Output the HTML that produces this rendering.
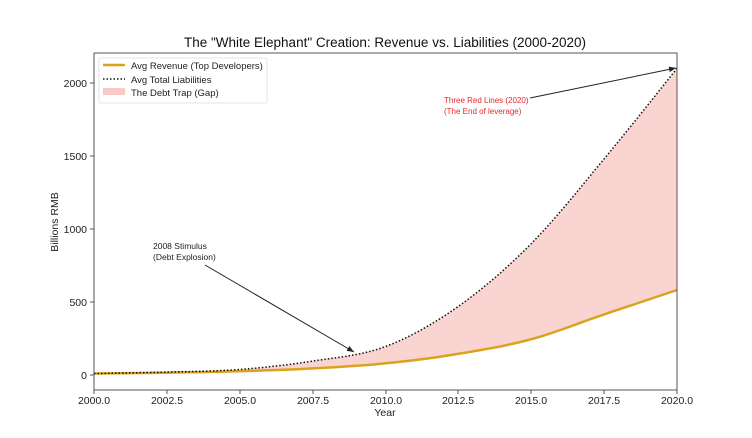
<!DOCTYPE html>
<html><head><meta charset="utf-8"><style>
body{margin:0;background:#fff;}
svg{display:block;font-family:"Liberation Sans",sans-serif;}
</style></head><body>
<svg id="s" width="752" height="438" viewBox="0 0 752 438">
<defs><marker id="ah" viewBox="0 0 10 10" refX="10" refY="5" markerWidth="7" markerHeight="7" orient="auto"><path d="M0,1 L10,5 L0,9 z" fill="#222"/></marker></defs>
<text x="385" y="47" font-size="13.5" text-anchor="middle" fill="#111">The "White Elephant" Creation: Revenue vs. Liabilities (2000-2020)</text>
<path id="fill" fill="#f9c9c6" fill-opacity="0.8"/>
<path id="rev" fill="none" stroke="#dba21b" stroke-width="2.5"/>
<path id="lia" fill="none" stroke="#111" stroke-width="1.5" stroke-dasharray="1.5,2"/>
<rect x="94" y="53" width="583" height="337" fill="none" stroke="#444" stroke-width="0.9"/>
<g font-size="10.5" fill="#222" text-anchor="middle">
<text x="94" y="404">2000.0</text><text x="167" y="404">2002.5</text><text x="240" y="404">2005.0</text><text x="313" y="404">2007.5</text><text x="386" y="404">2010.0</text><text x="458" y="404">2012.5</text><text x="531" y="404">2015.0</text><text x="604" y="404">2017.5</text><text x="677" y="404">2020.0</text>
<text x="385" y="416">Year</text>
</g>
<g stroke="#444" stroke-width="0.9">
<line x1="94" y1="390" x2="94" y2="394"/><line x1="167" y1="390" x2="167" y2="394"/><line x1="240" y1="390" x2="240" y2="394"/><line x1="313" y1="390" x2="313" y2="394"/><line x1="386" y1="390" x2="386" y2="394"/><line x1="458" y1="390" x2="458" y2="394"/><line x1="531" y1="390" x2="531" y2="394"/><line x1="604" y1="390" x2="604" y2="394"/><line x1="677" y1="390" x2="677" y2="394"/>
<line x1="90" y1="375" x2="94" y2="375"/><line x1="90" y1="302" x2="94" y2="302"/><line x1="90" y1="229" x2="94" y2="229"/><line x1="90" y1="156" x2="94" y2="156"/><line x1="90" y1="83" x2="94" y2="83"/>
</g>
<g font-size="10.5" fill="#222" text-anchor="end">
<text x="87" y="379">0</text><text x="87" y="306">500</text><text x="87" y="233">1000</text><text x="87" y="160">1500</text><text x="87" y="87">2000</text>
</g>
<text transform="translate(58,222) rotate(-90)" font-size="10.5" text-anchor="middle" fill="#222">Billions RMB</text>
<rect x="99" y="58" width="168" height="45" fill="#fff" stroke="#ddd" stroke-width="0.8" rx="2"/>
<line x1="103" y1="65" x2="125" y2="65" stroke="#dba21b" stroke-width="2.5"/>
<line x1="103" y1="79" x2="125" y2="79" stroke="#111" stroke-width="1.5" stroke-dasharray="1.5,2"/>
<rect x="103" y="88" width="22" height="7" fill="#f9c9c6"/>
<g font-size="9.5" fill="#222"><text x="131" y="69">Avg Revenue (Top Developers)</text><text x="131" y="83">Avg Total Liabilities</text><text x="131" y="96">The Debt Trap (Gap)</text></g>
<g font-size="8.5" fill="#222"><text x="153" y="249">2008 Stimulus</text><text x="153" y="260">(Debt Explosion)</text></g>
<line x1="205" y1="265" x2="354" y2="352" stroke="#222" stroke-width="1" marker-end="url(#ah)"/>
<g font-size="8" fill="#e8262a"><text x="444" y="103">Three Red Lines (2020)</text><text x="444" y="114">(The End of leverage)</text></g>
<line x1="530" y1="98" x2="676" y2="68" stroke="#222" stroke-width="1" marker-end="url(#ah)"/>
</svg>
<script>
var L=[[2000,10],[2002.5,20],[2005,38],[2007.5,95],[2010,195],[2012.5,470],[2015,900],[2017.5,1480],[2020,2100]];
var R=[[2000,10],[2002.5,16],[2005,26],[2007.5,45],[2010,80],[2012.5,145],[2015,245],[2017.5,415],[2020,582]];
function X(t){return 94+(t-2000)*29.15;}function Y(v){return 375-v*0.146;}
function interp(P){var o=[];for(var i=0;i<P.length-1;i++){var p0=P[Math.max(i-1,0)],p1=P[i],p2=P[i+1],p3=P[Math.min(i+2,P.length-1)];for(var k=0;k<10;k++){var t=k/10,t2=t*t,t3=t2*t;var f=function(a,b,c,d){return 0.5*(2*b+(-a+c)*t+(2*a-5*b+4*c-d)*t2+(-a+3*b-3*c+d)*t3);};o.push([f(p0[0],p1[0],p2[0],p3[0]),f(p0[1],p1[1],p2[1],p3[1])]);}}o.push(P[P.length-1]);return o;}
var l=interp(L),r=interp(R);
function d(a){return a.map(function(p,i){return (i?'L':'M')+X(p[0]).toFixed(1)+','+Y(p[1]).toFixed(1);}).join('');}
document.getElementById('lia').setAttribute('d',d(l));
document.getElementById('rev').setAttribute('d',d(r));
document.getElementById('fill').setAttribute('d',d(l)+d(r.slice().reverse()).replace('M','L')+'Z');
</script>
</body></html>
